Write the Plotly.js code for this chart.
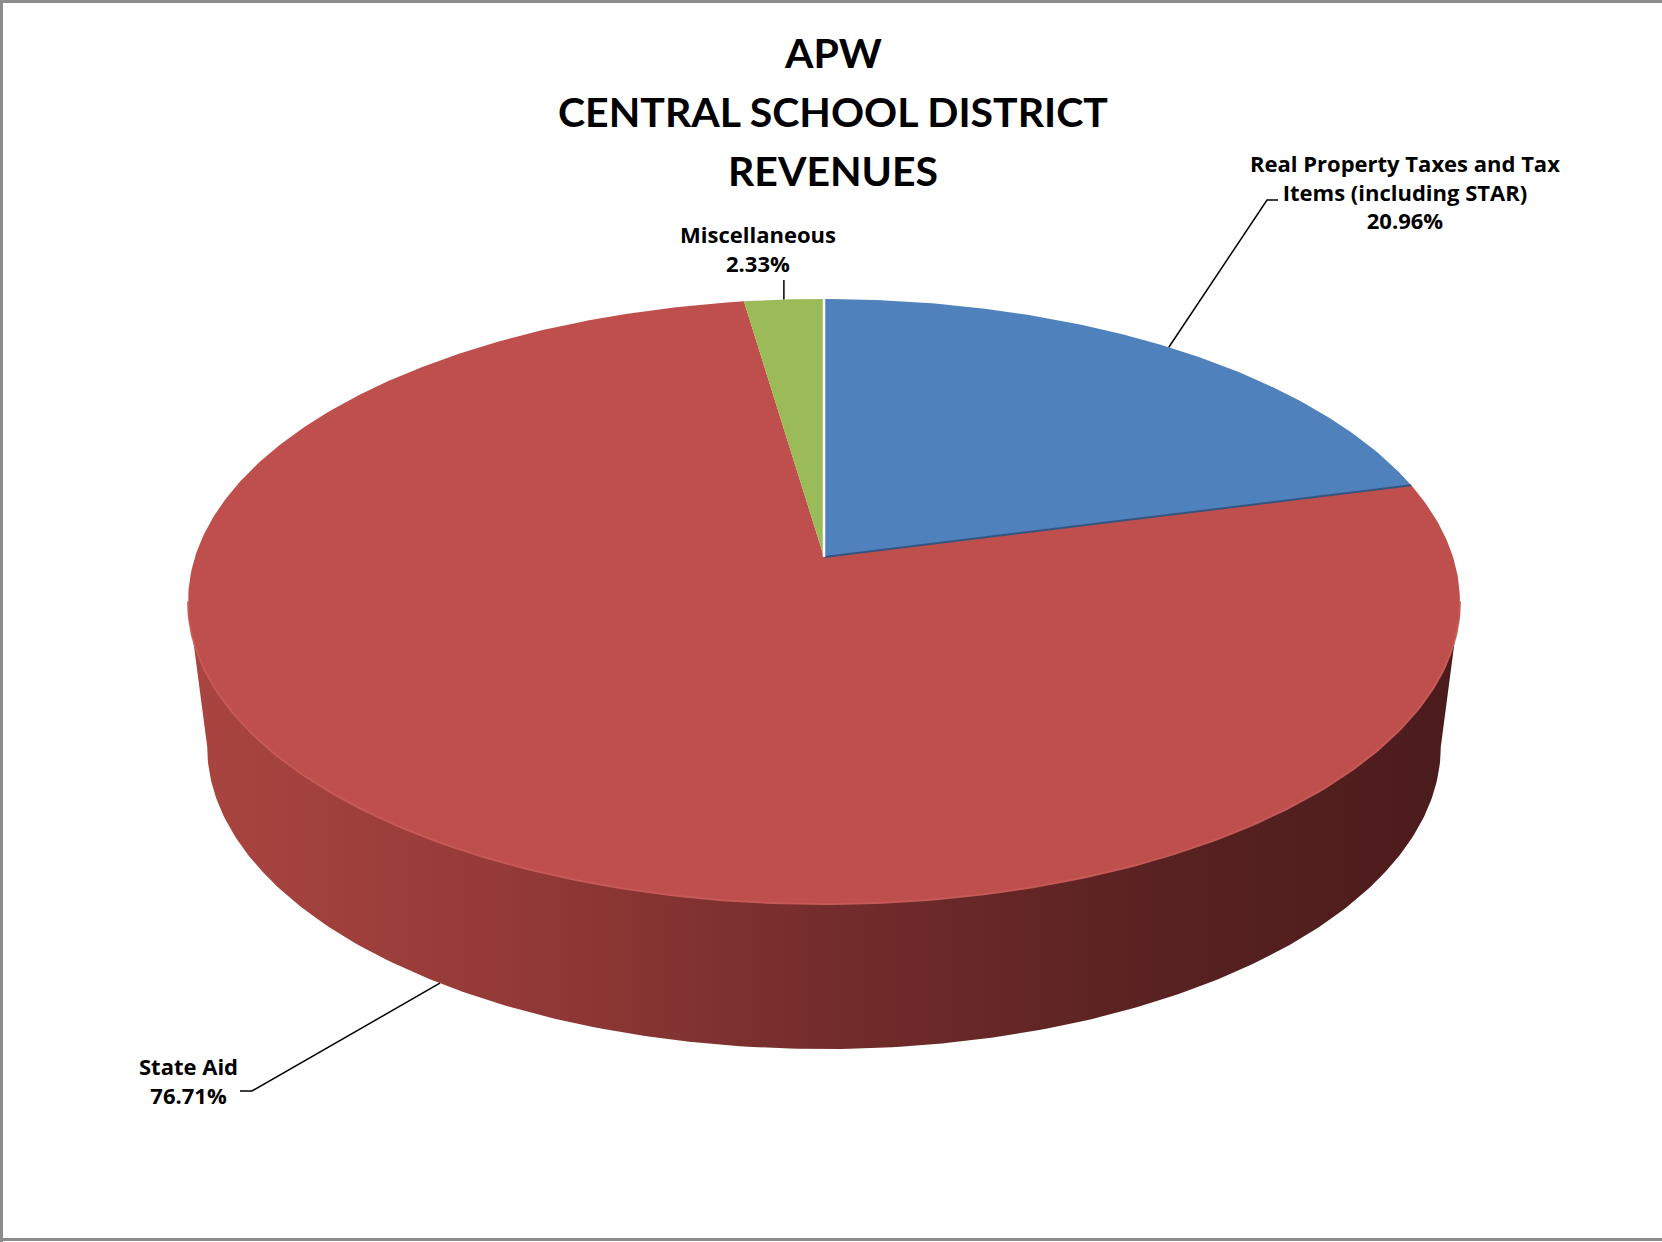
<!DOCTYPE html>
<html>
<head>
<meta charset="utf-8">
<script src="https://cdn.plot.ly/plotly-3.0.1.min.js"></script>
<style>html,body{margin:0;padding:0;background:#fff;}#chart{width:1662px;height:1242px;}</style>
</head>
<body>
<div id="chart"></div>
<script>
// ---- data ----
const categories = ['Real Property Taxes and Tax Items (including STAR)', 'State Aid', 'Miscellaneous'];
const labelText = ['Real Property Taxes and Tax<br>Items (including STAR)', 'State Aid', 'Miscellaneous'];
const values = [20.96, 76.71, 2.33];
const sliceColors = ['#4F81BD', '#BE4F4C', '#9BBB59'];
const titleLines = ['APW', 'CENTRAL SCHOOL DISTRICT', 'REVENUES'];

// ---- 3D pie geometry (pixel space of the chart) ----
const W = 1662, H = 1242;
const CX = 824, CY = 557;      // projected centre of top face
const A = 629, B = 296, S = 0.147; // perspective ellipse params
const KX = 0.97, OFF = 145;    // bottom face shrink & drop

function proj(deg, bottom) {
  const t = deg * Math.PI / 180;
  const X = Math.sin(t), Z = Math.cos(t);
  const w = 1 + S * Z;
  let x = CX + A * X / w;
  let y = CY - B * Z / w;
  if (bottom) { x = CX + KX * (x - CX); y += OFF; }
  return [x, y];
}
function arc(d0, d1, bottom, n) {
  const xs = [], ys = [];
  for (let i = 0; i <= n; i++) {
    const p = proj(d0 + (d1 - d0) * i / n, bottom);
    xs.push(p[0]); ys.push(p[1]);
  }
  return [xs, ys];
}

const total = values.reduce((a, b) => a + b, 0);
const starts = [], ends = [];
let acc = 0;
values.forEach(v => { starts.push(acc / total * 360); acc += v; ends.push(acc / total * 360); });

const traces = [];

// side wall (front half of the cylinder), lies inside the State Aid slice
const ext = Math.acos(-S) * 180 / Math.PI; // horizontal extremes
{
  const top = arc(ext, 360 - ext, false, 240);
  const bot = arc(360 - ext, ext, true, 240);
  traces.push({
    type: 'scatter', mode: 'lines', x: top[0].concat(bot[0]), y: top[1].concat(bot[1]),
    fill: 'toself', line: {width: 0, color: 'rgba(0,0,0,0)'},
    fillgradient: {type: 'horizontal', colorscale: [[0, '#AA4541'], [0.25, '#943A37'], [0.5, '#742D2C'], [0.75, '#5A2222'], [1, '#4B1B1B']]},
    hoverinfo: 'skip', showlegend: false
  });
}

// top faces of slices
values.forEach((v, i) => {
  const a = arc(starts[i], ends[i], false, Math.max(20, Math.round(v * 6)));
  traces.push({
    type: 'scatter', mode: 'lines', name: categories[i],
    x: [CX].concat(a[0], [CX]), y: [CY].concat(a[1], [CY]),
    fill: 'toself', fillcolor: sliceColors[i],
    line: {width: 0, color: sliceColors[i]},
    hoverinfo: 'name', showlegend: false
  });
});

// slice edges
{
  const pBlueEnd = proj(ends[0], false);
  traces.push({type: 'scatter', mode: 'lines', x: [CX, pBlueEnd[0]], y: [CY, pBlueEnd[1]],
    line: {color: '#34557F', width: 2}, hoverinfo: 'skip', showlegend: false});
  const pTop = proj(starts[0], false);
  traces.push({type: 'scatter', mode: 'lines', x: [CX, pTop[0]], y: [CY, pTop[1]],
    line: {color: '#FFFFFF', width: 2.5}, hoverinfo: 'skip', showlegend: false});
  const rim = arc(ext, 360 - ext, false, 200);
  traces.push({type: 'scatter', mode: 'lines', x: rim[0], y: rim[1],
    line: {color: '#C55A57', width: 2}, hoverinfo: 'skip', showlegend: false});
}

// leader lines (anchors at each slice's mid angle)
const mid = values.map((v, i) => (starts[i] + ends[i]) / 2);
const aBlue = proj(mid[0], false);
const aRed = proj(mid[1], true);
const aGreen = proj(mid[2], false);
const leaders = [
  {x: [aBlue[0], 1267, 1278], y: [aBlue[1], 200, 200]},
  {x: [aRed[0], 252, 240], y: [aRed[1], 1091, 1091]},
  {x: [aGreen[0], aGreen[0]], y: [aGreen[1], 280]}
];
leaders.forEach(l => traces.push({type: 'scatter', mode: 'lines', x: l.x, y: l.y,
  line: {color: '#000', width: 1.5}, hoverinfo: 'skip', showlegend: false}));

const labelPos = [[1405, 191], [188, 1080], [758, 248]];
const annotations = values.map((v, i) => ({
  x: labelPos[i][0], y: labelPos[i][1], xref: 'x', yref: 'y',
  text: labelText[i] + '<br>' + v.toFixed(2) + '%',
  showarrow: false, xanchor: 'center', yanchor: 'middle', align: 'center',
  font: {family: 'Open Sans, sans-serif', size: 22, color: '#000', weight: 700}
}));

// title lines
const titleY = [52.5, 111, 170];
titleLines.forEach((t, i) => annotations.push({
  x: 833, y: titleY[i], xref: 'x', yref: 'y', text: t, showarrow: false,
  xanchor: 'center', yanchor: 'middle',
  font: {family: 'Lato, sans-serif', size: 41, color: '#000', weight: 700}
}));

const frame = {color: '#8C8C8C', width: 3};
const layout = {
  width: W, height: H,
  margin: {l: 0, r: 0, t: 0, b: 0, pad: 0},
  paper_bgcolor: '#fff', plot_bgcolor: '#fff',
  xaxis: {range: [0, W], visible: false, fixedrange: true},
  yaxis: {range: [H, 0], visible: false, fixedrange: true},
  showlegend: false,
  annotations: annotations,
  shapes: [
    {type: 'line', xref: 'paper', yref: 'paper', x0: 0, x1: 1, y0: 1 - 1.5 / H, y1: 1 - 1.5 / H, line: frame},
    {type: 'line', xref: 'paper', yref: 'paper', x0: 1.5 / W, x1: 1.5 / W, y0: 0, y1: 1, line: frame},
    {type: 'line', xref: 'paper', yref: 'paper', x0: 0, x1: 1, y0: 2.5 / H, y1: 2.5 / H, line: frame}
  ]
};

Plotly.newPlot('chart', traces, layout, {displayModeBar: false, staticPlot: true});
</script>
</body>
</html>
